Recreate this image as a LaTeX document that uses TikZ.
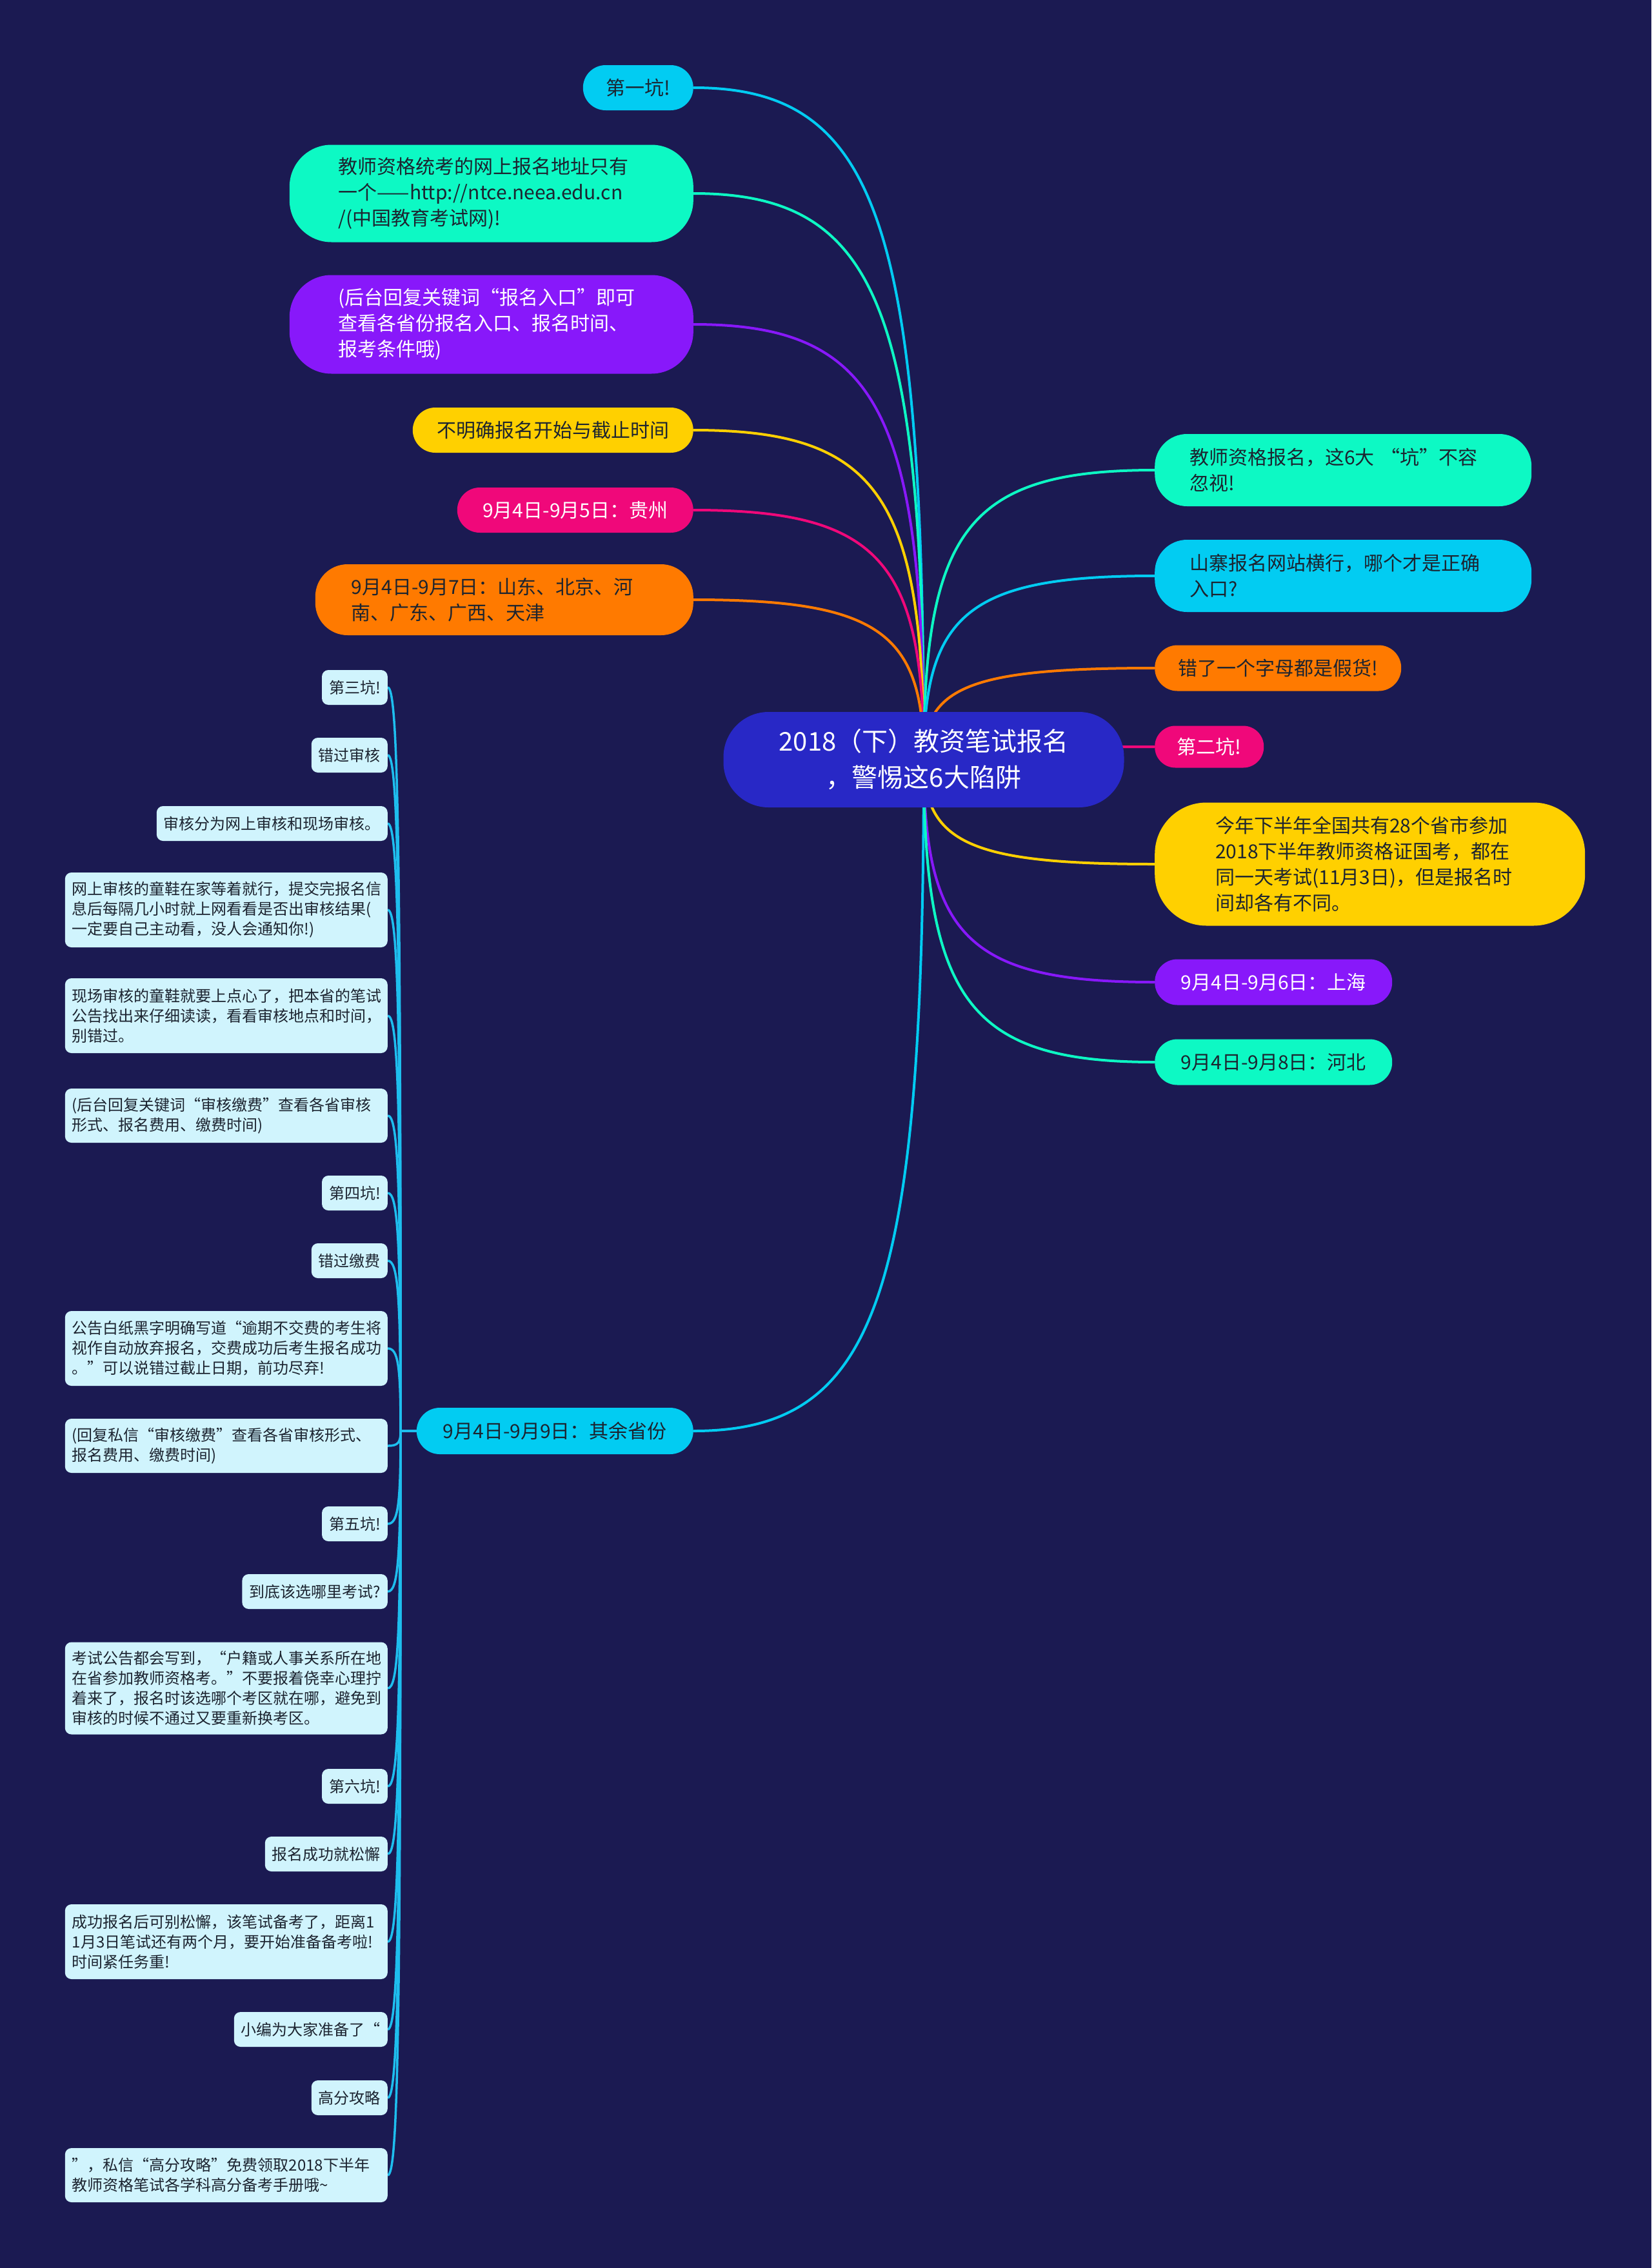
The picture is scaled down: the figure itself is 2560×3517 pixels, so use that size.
\documentclass[tikz,border=0pt]{standalone}
\usepackage{fontspec}
\setmainfont{Noto Sans CJK SC}
\usetikzlibrary{calc}
\definecolor{bgc}{RGB}{27,26,82}
\definecolor{teal}{RGB}{13,249,196}
\definecolor{cyanc}{RGB}{2,204,242}
\definecolor{purp}{RGB}{136,24,250}
\definecolor{yell}{RGB}{255,208,0}
\definecolor{pinkc}{RGB}{240,8,122}
\definecolor{orng}{RGB}{255,122,0}
\definecolor{rootc}{RGB}{40,40,198}
\definecolor{leaff}{RGB}{208,244,253}
\definecolor{leafline}{RGB}{30,190,238}
\definecolor{dk}{RGB}{28,36,48}
\pgfdeclarelayer{bg}
\pgfdeclarelayer{edges}
\pgfsetlayers{bg,edges,main}
\newcommand\mmedge[3]{\draw[edgeline,#1] (#2) .. controls ($(#2)!0.8!(#2 |- #3)$) and ($(#3)!0.8!(#2 |- #3)$) .. (#3);}
\begin{document}
\begin{tikzpicture}[x=1pt,y=-1pt,
  rootnode/.style={fill=rootc,text=white,inner sep=0pt,align=center,minimum width=621pt,minimum height=148pt,rounded corners=70pt,font=\fontsize{40}{56}\selectfont},
  mnode/.style={inner sep=0pt,align=left,text=dk,font=\fontsize{30}{40}\selectfont},
  lnode/.style={mnode,anchor=east},
  rnode/.style={mnode,anchor=west},
  leafnode/.style={fill=leaff,text=dk,rounded corners=10pt,inner xsep=11pt,inner ysep=0pt,anchor=east,align=left,minimum height=54pt,font=\fontsize{24}{31}\selectfont},
  wideleaf/.style={text width=478pt},
  edgeline/.style={line width=4pt},
  leafedge/.style={line width=3.5pt,leafline}]
\begin{pgfonlayer}{bg}
\fill[bgc] (0,0) rectangle (2560,3517);
\end{pgfonlayer}
\useasboundingbox (0,0) rectangle (2560,3517);

% root
\node[rootnode] (c) at (1432,1178) {2018（下）教资笔试报名\\，警惕这6大陷阱};

% left main branches
\node[lnode,fill=cyanc,minimum width=171pt,minimum height=70pt,rounded corners=35pt] (l1) at (1075,136) {第一坑!};
\node[lnode,fill=teal,inner xsep=76pt,text width=474pt,minimum height=151pt,rounded corners=65pt] (l2) at (1075,300) {教师资格统考的网上报名地址只有\\一个——http://ntce.neea.edu.cn\\/(中国教育考试网)!};
\node[lnode,fill=purp,text=white,inner xsep=76pt,text width=474pt,minimum height=153pt,rounded corners=65pt] (l3) at (1075,503) {(后台回复关键词“报名入口”即可\\查看各省份报名入口、报名时间、\\报考条件哦)};
\node[lnode,fill=yell,minimum width=435pt,minimum height=70pt,rounded corners=35pt] (l4) at (1075,667) {不明确报名开始与截止时间};
\node[lnode,fill=pinkc,text=white,minimum width=366pt,minimum height=70pt,rounded corners=35pt] (l5) at (1075,791) {9月4日-9月5日：贵州};
\node[lnode,fill=orng,inner xsep=56pt,text width=474pt,minimum height=110pt,rounded corners=50pt] (l6) at (1075,930) {9月4日-9月7日：山东、北京、河\\南、广东、广西、天津};
\node[lnode,fill=cyanc,minimum width=429pt,minimum height=72pt,rounded corners=36pt] (l7) at (1075,2219) {9月4日-9月9日：其余省份};

% right main branches
\node[rnode,fill=teal,inner xsep=54pt,text width=476pt,minimum height=112pt,rounded corners=50pt] (r1) at (1790,729) {教师资格报名，这6大 “坑”不容\\忽视!};
\node[rnode,fill=cyanc,inner xsep=54pt,text width=476pt,minimum height=112pt,rounded corners=50pt] (r2) at (1790,893) {山寨报名网站横行，哪个才是正确\\入口?};
\node[rnode,fill=orng,minimum width=382pt,minimum height=71pt,rounded corners=35pt] (r3) at (1790,1036) {错了一个字母都是假货!};
\node[rnode,fill=pinkc,text=white,minimum width=169pt,minimum height=65pt,rounded corners=32pt] (r4) at (1790,1158) {第二坑!};
\node[rnode,fill=yell,inner xsep=94pt,text width=479pt,minimum height=191pt,rounded corners=80pt] (r5) at (1790,1340) {今年下半年全国共有28个省市参加\\2018下半年教师资格证国考，都在\\同一天考试(11月3日)，但是报名时\\间却各有不同。};
\node[rnode,fill=purp,text=white,minimum width=368pt,minimum height=71pt,rounded corners=35pt] (r6) at (1790,1523) {9月4日-9月6日：上海};
\node[rnode,fill=teal,minimum width=368pt,minimum height=71pt,rounded corners=35pt] (r7) at (1790,1647) {9月4日-9月8日：河北};

% leaves
\coordinate (J) at (621,2219);
\node[leafnode] (f1) at (601,1066) {第三坑!};
\node[leafnode] (f2) at (601,1171) {错过审核};
\node[leafnode] (f3) at (601,1277) {审核分为网上审核和现场审核。};
\node[leafnode,wideleaf,minimum height=116pt] (f4) at (601,1411) {网上审核的童鞋在家等着就行，提交完报名信\\息后每隔几小时就上网看看是否出审核结果(\\一定要自己主动看，没人会通知你!)};
\node[leafnode,wideleaf,minimum height=116pt] (f5) at (601,1575) {现场审核的童鞋就要上点心了，把本省的笔试\\公告找出来仔细读读，看看审核地点和时间，\\别错过。};
\node[leafnode,wideleaf,minimum height=84pt] (f6) at (601,1730) {(后台回复关键词“审核缴费”查看各省审核\\形式、报名费用、缴费时间)};
\node[leafnode] (f7) at (601,1850) {第四坑!};
\node[leafnode] (f8) at (601,1955) {错过缴费};
\node[leafnode,wideleaf,minimum height=116pt] (f9) at (601,2091) {公告白纸黑字明确写道“逾期不交费的考生将\\视作自动放弃报名，交费成功后考生报名成功\\。”可以说错过截止日期，前功尽弃!};
\node[leafnode,wideleaf,minimum height=84pt] (f10) at (601,2242) {(回复私信“审核缴费”查看各省审核形式、\\报名费用、缴费时间)};
\node[leafnode] (f11) at (601,2363) {第五坑!};
\node[leafnode] (f12) at (601,2468) {到底该选哪里考试?};
\node[leafnode,wideleaf,minimum height=143pt] (f13) at (601,2618) {考试公告都会写到，“户籍或人事关系所在地\\在省参加教师资格考。”不要报着侥幸心理拧\\着来了，报名时该选哪个考区就在哪，避免到\\审核的时候不通过又要重新换考区。};
\node[leafnode] (f14) at (601,2770) {第六坑!};
\node[leafnode] (f15) at (601,2875) {报名成功就松懈};
\node[leafnode,wideleaf,minimum height=116pt] (f16) at (601,3011) {成功报名后可别松懈，该笔试备考了，距离1\\1月3日笔试还有两个月，要开始准备备考啦!\\时间紧任务重!};
\node[leafnode] (f17) at (601,3147) {小编为大家准备了“};
\node[leafnode] (f18) at (601,3253) {高分攻略};
\node[leafnode,wideleaf,minimum height=84pt] (f19) at (601,3373) {”，私信“高分攻略”免费领取2018下半年\\教师资格笔试各学科高分备考手册哦\textasciitilde};

\begin{pgfonlayer}{edges}
\mmedge{cyanc}{c.center}{l1.east}
\mmedge{teal}{c.center}{l2.east}
\mmedge{purp}{c.center}{l3.east}
\mmedge{yell}{c.center}{l4.east}
\mmedge{pinkc}{c.center}{l5.east}
\mmedge{orng}{c.center}{l6.east}
\mmedge{cyanc}{c.center}{l7.east}
\mmedge{teal}{c.center}{r1.west}
\mmedge{cyanc}{c.center}{r2.west}
\mmedge{orng}{c.center}{r3.west}
\mmedge{pinkc}{c.center}{r4.west}
\mmedge{yell}{c.center}{r5.west}
\mmedge{purp}{c.center}{r6.west}
\mmedge{teal}{c.center}{r7.west}
\draw[leafedge] (l7.west) -- (J);
\foreach \k in {1,...,19}{\mmedge{leafedge}{J}{f\k.east}}
\end{pgfonlayer}
\end{tikzpicture}
\end{document}
